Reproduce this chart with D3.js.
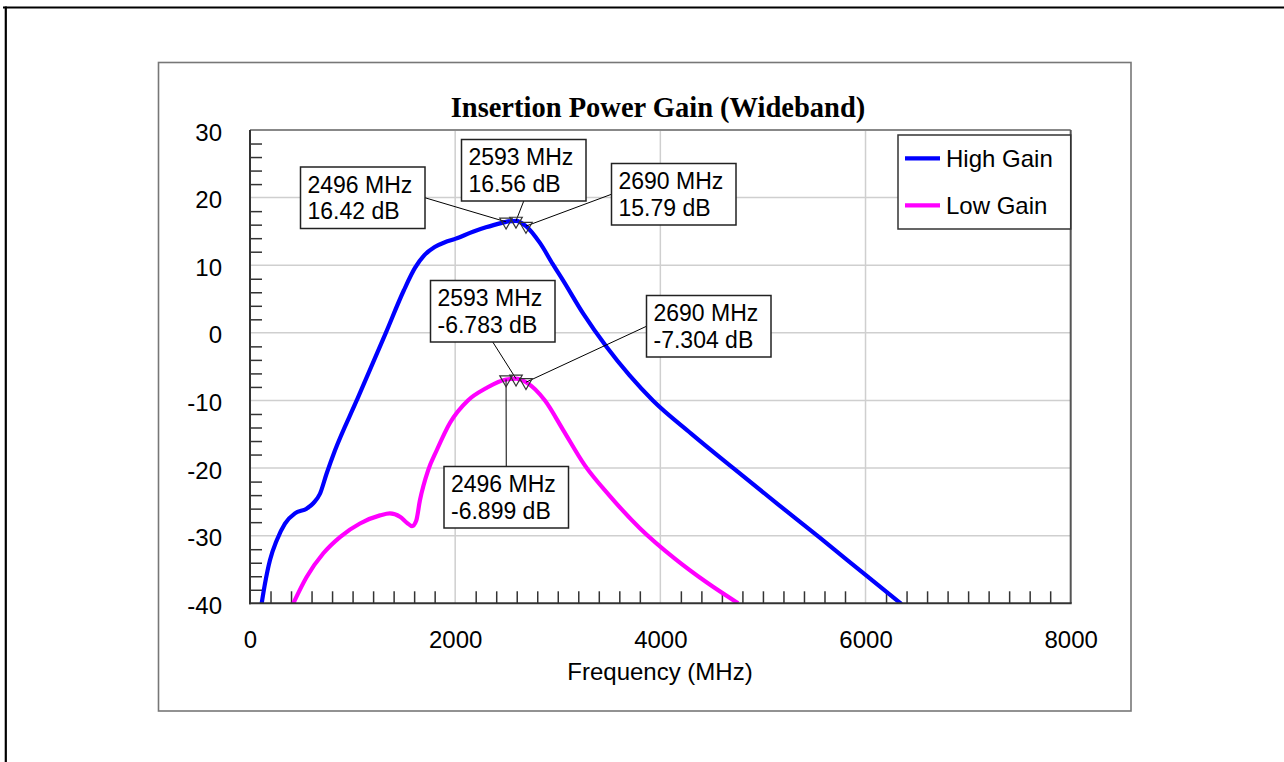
<!DOCTYPE html>
<html>
<head>
<meta charset="utf-8">
<script src="https://cdn.jsdelivr.net/npm/d3@7"></script>
<style>
  html, body { margin: 0; padding: 0; background: #fff; }
  svg { display: block; }
  text { font-family: "Liberation Sans", Arial, sans-serif; fill: #000; }
</style>
</head>
<body>
<svg id="chart" width="1284" height="762"></svg>
<script>
// ---- data -------------------------------------------------------------
const highFreq = [114, 146, 195, 260, 341, 438, 552, 617, 682, 747, 828, 1040, 1324, 1500, 1608, 1700, 1800, 1900, 2000, 2173, 2300, 2465, 2496, 2593, 2690, 2826, 2950, 3050, 3250, 3475, 3700, 3927, 4300, 4726, 5150, 5554, 6000, 6350];
const highGain = [-40, -37.1, -33.6, -30.7, -28.2, -26.7, -26.0, -25.2, -23.8, -20.8, -17.4, -10, 0, 6.3, 9.6, 11.5, 12.7, 13.4, 13.9, 14.95, 15.6, 16.3, 16.42, 16.56, 15.79, 13.3, 10.2, 7.8, 2.8, -2.07, -6.3, -10, -14.9, -20.2, -25.4, -30.3, -35.8, -40.1];

const lowFreq = [422, 552, 715, 877, 1072, 1267, 1364, 1462, 1530, 1580, 1620, 1656, 1737, 1819, 1950, 2124, 2300, 2496, 2593, 2690, 2875, 3050, 3264, 3500, 3800, 4141, 4450, 4758];
const lowGain = [-40, -36.1, -32.6, -30.2, -28.2, -27.0, -26.7, -27.2, -28.1, -28.6, -27.8, -24.8, -20.3, -17.4, -13.3, -10, -8.2, -6.899, -6.783, -7.304, -10, -14.3, -19.6, -24.0, -28.9, -33.4, -36.9, -40];

const seriesNames = ["High Gain", "Low Gain"];

// marker readouts: frequency (MHz) and gain (dB) per series
const markerFreq = [2496, 2593, 2690];
const highMarkerGain = [16.42, 16.56, 15.79];
const lowMarkerGain = [-6.899, -6.783, -7.304];

const xTicks = [0, 2000, 4000, 6000, 8000];
const yTicks = [30, 20, 10, 0, -10, -20, -30, -40];

// ---- layout -----------------------------------------------------------
const plot = { left: 250, right: 1070.7, top: 130, bottom: 603.3 };
const colors = { "High Gain": "#0000ff", "Low Gain": "#ff00ff" };

// callout box top-left corners, in the same order as the markers
const highBoxes = [[300.5, 167], [461.5, 139.5], [611.5, 163.5]];
const lowBoxes = [[444, 466.5], [430.5, 280.5], [646.5, 295.5]];
const boxW = 124.5, boxH = 61.5;

const svg = d3.select("#chart");

const x = d3.scaleLinear().domain([0, 8000]).range([plot.left, plot.right]);
const y = d3.scaleLinear().domain([-40, 30]).range([plot.bottom, plot.top]);

// outer page frame (top and left edges)
svg.append("line").attr("x1", 3).attr("x2", 1284).attr("y1", 7.5).attr("y2", 7.5)
  .attr("stroke", "#000").attr("stroke-width", 2.2);
svg.append("line").attr("x1", 5.8).attr("x2", 5.8).attr("y1", 6.5).attr("y2", 762)
  .attr("stroke", "#000").attr("stroke-width", 2.2);

// chart panel
svg.append("rect").attr("x", 158.5).attr("y", 62.5).attr("width", 972.5).attr("height", 648.5)
  .attr("fill", "#fff").attr("stroke", "#777").attr("stroke-width", 1.6);

// title
svg.append("text").attr("x", 658).attr("y", 117).attr("text-anchor", "middle")
  .style("font-family", "'Liberation Serif', 'Times New Roman', serif")
  .style("font-weight", "bold").style("font-size", "28.5px")
  .text("Insertion Power Gain (Wideband)");

// grid
const grid = svg.append("g").attr("stroke", "#cfcfcf").attr("stroke-width", 1.5);
grid.selectAll("line.gx").data(xTicks.filter(d => d > 0 && d < 8000)).join("line")
  .attr("x1", d => x(d)).attr("x2", d => x(d)).attr("y1", plot.top).attr("y2", plot.bottom);
grid.selectAll("line.gy").data(yTicks.filter(d => d > -40 && d < 30)).join("line")
  .attr("y1", d => y(d)).attr("y2", d => y(d)).attr("x1", plot.left).attr("x2", plot.right);

// minor ticks pointing into the plot
const yMinor = d3.range(-38, 30, 2).filter(d => d % 10 !== 0);
const xMinor = d3.range(200, 8000, 200).filter(d => d % 2000 !== 0);
const yMinorAxis = svg.append("g").attr("transform", `translate(${plot.left},0)`)
  .call(d3.axisRight(y).tickValues(yMinor).tickSize(12).tickFormat(""));
const xMinorAxis = svg.append("g").attr("transform", `translate(0,${plot.bottom})`)
  .call(d3.axisTop(x).tickValues(xMinor).tickSize(12).tickFormat(""));
[yMinorAxis, xMinorAxis].forEach(g => {
  g.select(".domain").remove();
  g.selectAll(".tick line").attr("stroke", "#333").attr("stroke-width", 1.5);
});

// tick labels (plain hyphen-minus for negatives)
const yAxis = svg.append("g").attr("transform", `translate(222,0)`)
  .call(d3.axisLeft(y).tickValues(yTicks).tickSize(0).tickPadding(0).tickFormat(d => String(d)));
yAxis.select(".domain").remove();
yAxis.selectAll(".tick text").attr("dy", null).attr("y", 10)
  .style("font-family", "'Liberation Sans', Arial, sans-serif").style("font-size", "24px").attr("fill", "#000");

const xAxis = svg.append("g").attr("transform", `translate(0,${plot.bottom})`)
  .call(d3.axisBottom(x).tickValues(xTicks).tickSize(0).tickPadding(0).tickFormat(d => String(d)));
xAxis.select(".domain").remove();
xAxis.selectAll(".tick text").attr("dy", null).attr("y", 45)
  .style("font-family", "'Liberation Sans', Arial, sans-serif").style("font-size", "24px").attr("fill", "#000");

svg.append("text").attr("x", 660).attr("y", 680).attr("text-anchor", "middle")
  .style("font-size", "24px").text("Frequency (MHz)");

// curves
svg.append("clipPath").attr("id", "plotClip").append("rect")
  .attr("x", plot.left).attr("y", plot.top)
  .attr("width", plot.right - plot.left).attr("height", plot.bottom - plot.top);

const line = d3.line().x(d => x(d[0])).y(d => y(d[1])).curve(d3.curveMonotoneX);
const series = [
  { name: "High Gain", pts: d3.zip(highFreq, highGain) },
  { name: "Low Gain", pts: d3.zip(lowFreq, lowGain) }
];
svg.append("g").attr("clip-path", "url(#plotClip)")
  .selectAll("path").data(series).join("path")
  .attr("d", d => line(d.pts))
  .attr("fill", "none").attr("stroke", d => colors[d.name])
  .attr("stroke-width", 4.2).attr("stroke-linejoin", "round");

// plot frame
const frame = svg.append("g").attr("fill", "none");
frame.append("line").attr("x1", plot.left).attr("x2", plot.right).attr("y1", plot.top).attr("y2", plot.top)
  .attr("stroke", "#888").attr("stroke-width", 2);
frame.append("line").attr("x1", plot.right).attr("x2", plot.right).attr("y1", plot.top).attr("y2", plot.bottom)
  .attr("stroke", "#555").attr("stroke-width", 2);
frame.append("line").attr("x1", plot.left).attr("x2", plot.left).attr("y1", plot.top).attr("y2", plot.bottom + 1)
  .attr("stroke", "#333").attr("stroke-width", 2);
frame.append("line").attr("x1", plot.left - 1).attr("x2", plot.right + 1).attr("y1", plot.bottom).attr("y2", plot.bottom)
  .attr("stroke", "#333").attr("stroke-width", 2);

// legend
const legend = svg.append("g");
legend.append("rect").attr("x", 898).attr("y", 135).attr("width", plot.right - 898).attr("height", 94)
  .attr("fill", "#fff").attr("stroke", "#333").attr("stroke-width", 1.5);
seriesNames.forEach((name, i) => {
  const ly = 158.3 + i * 47;
  legend.append("line").attr("x1", 905).attr("x2", 940).attr("y1", ly).attr("y2", ly)
    .attr("stroke", colors[name]).attr("stroke-width", 4.2);
  legend.append("text").attr("x", 946).attr("y", ly + 8.5).style("font-size", "24px").text(name);
});

// markers and callouts
const fmtGain = v => `${v} dB`;
const callouts = [];
markerFreq.forEach((f, i) => {
  callouts.push({ f, g: highMarkerGain[i], box: highBoxes[i] });
  callouts.push({ f, g: lowMarkerGain[i], box: lowBoxes[i] });
});

const co = svg.append("g");
callouts.forEach(c => {
  const px = x(c.f), py = y(c.g);
  const [bx, by] = c.box;
  // attach the leader to the nearest edge midpoint of the box
  let ax, ay;
  if (px > bx + boxW) { ax = bx + boxW; ay = by + boxH / 2; }
  else if (px < bx) { ax = bx; ay = by + boxH / 2; }
  else if (py > by + boxH) { ax = bx + boxW / 2; ay = by + boxH; }
  else { ax = bx + boxW / 2; ay = by; }
  co.append("line").attr("x1", ax).attr("y1", ay).attr("x2", px).attr("y2", py)
    .attr("stroke", "#000").attr("stroke-width", 1);
});
callouts.forEach(c => {
  co.append("path")
    .attr("d", d3.symbol(d3.symbolTriangle, 68)())
    .attr("transform", `translate(${x(c.f)},${y(c.g)}) rotate(180)`)
    .attr("fill", "none").attr("stroke", "#333").attr("stroke-width", 1.2);
});
callouts.forEach(c => {
  const [bx, by] = c.box;
  co.append("rect").attr("x", bx).attr("y", by).attr("width", boxW).attr("height", boxH)
    .attr("fill", "#fff").attr("stroke", "#222").attr("stroke-width", 1.5);
  co.append("text").attr("x", bx + 7).attr("y", by + 25.5).style("font-size", "23px").text(`${c.f} MHz`);
  co.append("text").attr("x", bx + 7).attr("y", by + 52).style("font-size", "23px").text(fmtGain(c.g));
});
</script>
</body>
</html>
